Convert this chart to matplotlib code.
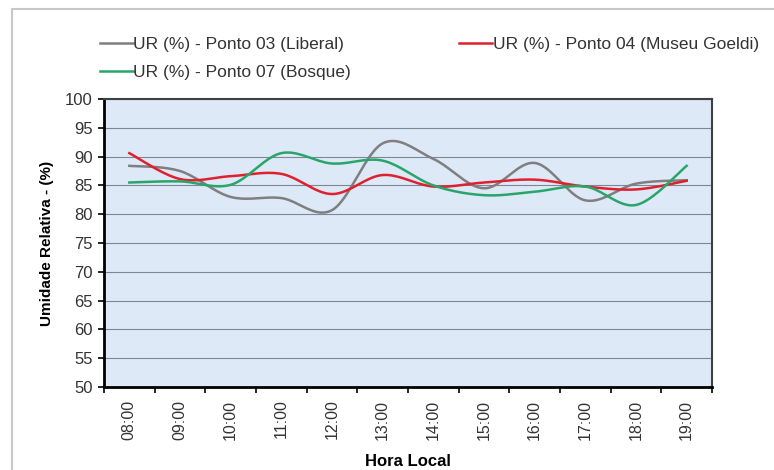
import numpy as np
import matplotlib
matplotlib.use("Agg")
import matplotlib.pyplot as plt
from matplotlib.patches import Rectangle

plt.rcParams['font.family'] = ['Liberation Sans', 'DejaVu Sans']

hours = ["08:00", "09:00", "10:00", "11:00", "12:00", "13:00",
         "14:00", "15:00", "16:00", "17:00", "18:00", "19:00"]
ur_liberal = [88.4, 87.5, 83.0, 82.8, 80.7, 92.3, 89.6, 84.5, 88.9, 82.4, 85.3, 85.9]
ur_goeldi = [90.6, 86.1, 86.6, 87.0, 83.5, 86.8, 84.8, 85.5, 86.0, 84.8, 84.3, 85.8]
ur_bosque = [85.5, 85.7, 85.1, 90.6, 88.8, 89.3, 85.0, 83.3, 83.9, 84.8, 81.6, 88.4]

series = [
    ("UR (%) - Ponto 03 (Liberal)", ur_liberal, "#7f7f7f"),
    ("UR (%) - Ponto 04 (Museu Goeldi)", ur_goeldi, "#e0202e"),
    ("UR (%) - Ponto 07 (Bosque)", ur_bosque, "#2aa56a"),
]


def smooth(x, y, n=20):
    # Catmull-Rom spline (Excel-like smoothed line)
    x = np.asarray(x, float)
    y = np.asarray(y, float)
    px = np.concatenate([[x[0]], x, [x[-1]]])
    py = np.concatenate([[y[0]], y, [y[-1]]])
    xs, ys = [], []
    t = np.linspace(0, 1, n, endpoint=False)
    for i in range(1, len(px) - 2):
        for p, out in ((px, xs), (py, ys)):
            p0, p1, p2, p3 = p[i - 1], p[i], p[i + 1], p[i + 2]
            out.extend(0.5 * ((2 * p1) + (-p0 + p2) * t +
                              (2 * p0 - 5 * p1 + 4 * p2 - p3) * t ** 2 +
                              (-p0 + 3 * p1 - 3 * p2 + p3) * t ** 3))
    xs.append(x[-1])
    ys.append(y[-1])
    return np.array(xs), np.array(ys)


fig = plt.figure(figsize=(7.74, 4.70), dpi=100)
fig.patch.set_facecolor("white")

# outer frame
fig.patches.append(Rectangle((12 / 774, -0.05), 1.0, 1 - 8.5 / 470 + 0.05,
                             transform=fig.transFigure, fill=False,
                             edgecolor="#c8c8c8", linewidth=1.5))

ax = fig.add_axes([104 / 774, 1 - 387 / 470, 608 / 774, 288 / 470])
ax.set_facecolor("#dde9f6")

x = np.arange(len(hours))
handles = []
for label, vals, col in series:
    sx, sy = smooth(x, vals)
    h, = ax.plot(sx, sy, color=col, linewidth=1.8, label=label)
    handles.append(h)

ax.set_xlim(-0.5, len(hours) - 0.5)
ax.set_ylim(50, 100)
ax.set_yticks(np.arange(50, 101, 5))
ax.set_xticks(x)
ax.set_xticklabels(hours, rotation=90, fontsize=11.5, color="#333333")
ax.set_xticks(np.arange(-0.5, len(hours), 1), minor=True)
ax.tick_params(axis="x", which="major", length=0, pad=9)
ax.tick_params(axis="x", which="minor", length=4, width=1.2, direction="out", color="black")
ax.tick_params(axis="y", length=4, width=1.2, direction="out", labelsize=12,
               labelcolor="#333333", pad=4)
ax.yaxis.grid(True, color="#7d8894", linewidth=0.8)
ax.set_axisbelow(True)

for s in ("left", "bottom"):
    ax.spines[s].set_color("black")
    ax.spines[s].set_linewidth(2)
for s in ("top", "right"):
    ax.spines[s].set_color("#404040")
    ax.spines[s].set_linewidth(1.5)

ax.set_ylabel("Umidade Relativa - (%)", fontsize=11, fontweight="bold", labelpad=8)
ax.set_xlabel("Hora Local", fontsize=12, fontweight="bold", labelpad=10)

order = [handles[0], handles[2], handles[1]]
fig.legend(handles=order, loc="upper left", bbox_to_anchor=(84 / 774, 1 - 21 / 470),
           ncol=2, frameon=False, fontsize=12.5, handlelength=1.9, handletextpad=0.05,
           columnspacing=6.2, labelspacing=0.75, labelcolor="#333333")

fig.savefig("out.png", dpi=100)
